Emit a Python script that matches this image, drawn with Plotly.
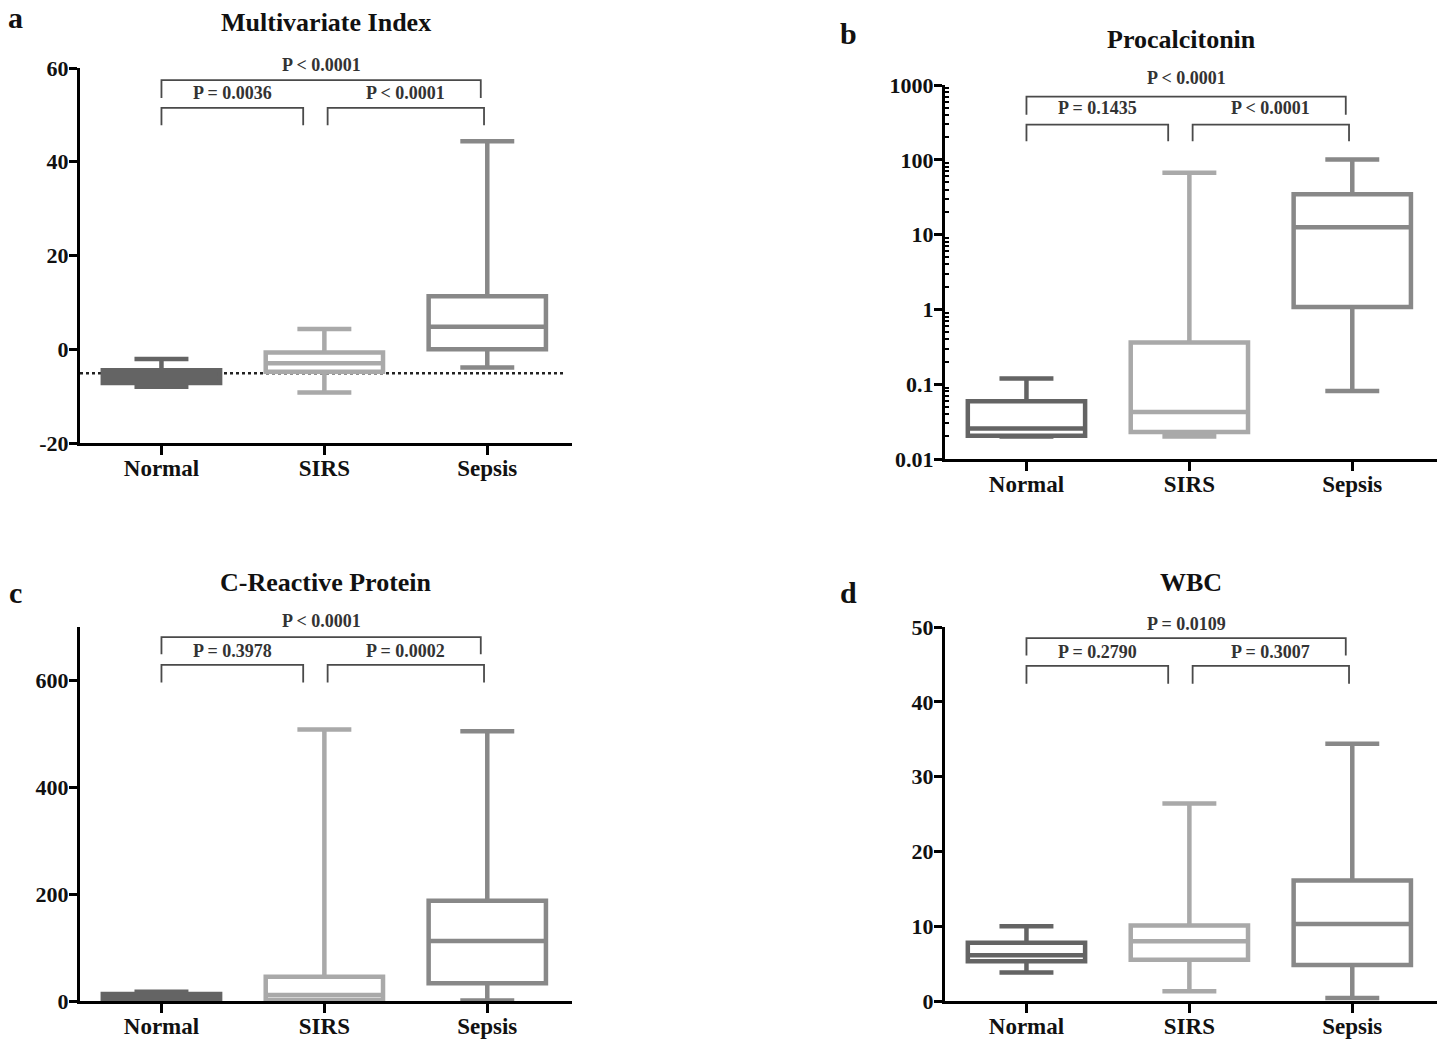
import math
import plotly.graph_objects as go

# ---------------- data ----------------
groups = ["Normal", "SIRS", "Sepsis"]
colors = ["#646464", "#a9a9a9", "#888888"]

# Multivariate Index
mi_min = [-8.0, -9.2, -3.9]
mi_q1 = [-7.2, -4.8, 0.0]
mi_med = [-6.0, -3.0, 4.8]
mi_q3 = [-4.5, -0.7, 11.3]
mi_max = [-2.1, 4.3, 44.4]
mi_ref = -5.1

# Procalcitonin
pct_min = [0.020, 0.020, 0.081]
pct_q1 = [0.0205, 0.023, 1.08]
pct_med = [0.0255, 0.0425, 12.5]
pct_q3 = [0.059, 0.36, 34.6]
pct_max = [0.119, 67.0, 101.0]

# C-Reactive Protein
crp_min = [0.5, 0.5, 1.0]
crp_q1 = [2.0, 2.0, 33.0]
crp_med = [6.0, 11.0, 112.5]
crp_q3 = [13.0, 45.6, 187.5]
crp_max = [17.5, 508.0, 505.0]

# WBC
wbc_min = [3.8, 1.3, 0.4]
wbc_q1 = [5.3, 5.5, 4.8]
wbc_med = [6.1, 8.0, 10.3]
wbc_q3 = [7.8, 10.1, 16.1]
wbc_max = [10.0, 26.4, 34.4]

# p-value labels: [Normal-SIRS, SIRS-Sepsis, Normal-Sepsis]
mi_p = ["P = 0.0036", "P < 0.0001", "P < 0.0001"]
pct_p = ["P = 0.1435", "P < 0.0001", "P < 0.0001"]
crp_p = ["P = 0.3978", "P = 0.0002", "P < 0.0001"]
wbc_p = ["P = 0.2790", "P = 0.3007", "P = 0.0109"]

# bracket heights: [lower bar, lower leg end, upper bar, upper leg end, lower text, upper text]
mi_br = [51.5, 47.8, 57.4, 53.6, 54.7, 60.7]
pct_br = [295, 177, 700, 400, 490, 1250]
crp_br = [629, 596, 681, 649, 656, 711]
wbc_br = [44.8, 42.4, 48.5, 46.2, 46.7, 50.4]

titles = ["Multivariate Index", "Procalcitonin", "C-Reactive Protein", "WBC"]
letters = ["a", "b", "c", "d"]

# ---------------- layout geometry ----------------
W, H = 1447, 1040
FONT = "Liberation Serif"

def px_x(a, b):
    return [a / W, b / W]

def px_y(top, bottom):
    return [1 - bottom / H, 1 - top / H]

panels = [
    dict(stats=(mi_min, mi_q1, mi_med, mi_q3, mi_max), p=mi_p, br=mi_br,
         xd=px_x(80, 572), yd=px_y(68, 443), log=False, yr=[-20, 60],
         tv=[-20, 0, 20, 40, 60], tt=["-20", "0", "20", "40", "60"],
         title_xy=(326, 22), letter_xy=(15, 17)),
    dict(stats=(pct_min, pct_q1, pct_med, pct_q3, pct_max), p=pct_p, br=pct_br,
         xd=px_x(945, 1437), yd=px_y(85, 459), log=True, yr=[-2, 3],
         tv=[0.01, 0.1, 1, 10, 100, 1000], tt=["0.01", "0.1", "1", "10", "100", "1000"],
         title_xy=(1181, 40), letter_xy=(848, 33)),
    dict(stats=(crp_min, crp_q1, crp_med, crp_q3, crp_max), p=crp_p, br=crp_br,
         xd=px_x(80, 572), yd=px_y(627, 1001), log=False, yr=[0, 700],
         tv=[0, 200, 400, 600], tt=["0", "200", "400", "600"],
         title_xy=(326, 582), letter_xy=(15, 592)),
    dict(stats=(wbc_min, wbc_q1, wbc_med, wbc_q3, wbc_max), p=wbc_p, br=wbc_br,
         xd=px_x(945, 1437), yd=px_y(627, 1001), log=False, yr=[0, 50],
         tv=[0, 10, 20, 30, 40, 50], tt=["0", "10", "20", "30", "40", "50"],
         title_xy=(1191, 582), letter_xy=(848, 592)),
]

fig = go.Figure()
annotations = []
shapes = []
layout = {}

for k, pn in enumerate(panels):
    n = "" if k == 0 else str(k + 1)
    xa, ya = "x" + n, "y" + n
    mn, q1, md, q3, mx = pn["stats"]
    for i, g in enumerate(groups):
        fill = colors[i] if (k == 0 and i == 0) else "white"
        fig.add_trace(go.Box(
            x=[i], q1=[q1[i]], median=[md[i]], q3=[q3[i]],
            lowerfence=[mn[i]], upperfence=[mx[i]],
            width=0.72, whiskerwidth=0.46, boxpoints=False,
            line=dict(color=colors[i], width=4.5), fillcolor=fill,
            name=g, showlegend=False, xaxis=xa, yaxis=ya, hoverinfo="skip"))
    # brackets
    b = pn["br"]
    brk = [(0.0, 0.87, b[0], b[1]), (1.02, 1.98, b[0], b[1]), (0.0, 1.96, b[2], b[3])]
    for (x0, x1, ybar, yleg) in brk:
        fig.add_trace(go.Scatter(
            x=[x0, x0, x1, x1], y=[yleg, ybar, ybar, yleg], mode="lines",
            line=dict(color="#4a4a4a", width=1.8), showlegend=False, cliponaxis=False,
            xaxis=xa, yaxis=ya, hoverinfo="skip"))
    txt_x = [(0.0 + 0.87) / 2, (1.02 + 1.98) / 2, (0.0 + 1.96) / 2]
    txt_y = [b[4], b[4], b[5]]
    r0, r1 = pn["yr"]
    for j in range(3):
        v = math.log10(txt_y[j]) if pn["log"] else txt_y[j]
        annotations.append(dict(
            x=txt_x[j], y=(v - r0) / (r1 - r0), xref=xa, yref=ya + " domain",
            text=pn["p"][j], showarrow=False, xanchor="center", yanchor="middle",
            font=dict(family=FONT, size=18, color="#333333", weight="bold")))
    # axes
    axis_x = dict(domain=pn["xd"], range=[-0.5, 2.52], tickvals=[0, 1, 2], ticktext=groups,
                  showline=True, linewidth=3, linecolor="black", ticks="outside",
                  ticklen=9, tickwidth=3, tickcolor="black", showgrid=False, zeroline=False,
                  tickfont=dict(family=FONT, size=23, color="#111111", weight="bold"),
                  ticklabelstandoff=-7,
                  anchor=ya, fixedrange=True, automargin=False)
    axis_y = dict(domain=pn["yd"], range=pn["yr"], tickvals=pn["tv"], ticktext=pn["tt"],
                  showline=True, linewidth=3, linecolor="black", ticks="outside",
                  ticklen=8, tickwidth=3, tickcolor="black", showgrid=False, zeroline=False,
                  tickfont=dict(family=FONT, size=22, color="#111111", weight="bold"),
                  ticklabelstandoff=-4,
                  anchor=xa, fixedrange=True, automargin=False)
    if pn["log"]:
        axis_y["type"] = "log"
        minor_vals = [m * 10 ** e for e in range(-2, 3) for m in range(2, 10)]
        axis_y["minor"] = dict(tickvals=minor_vals, ticks="inside", ticklen=4,
                               tickwidth=2, tickcolor="black", showgrid=False)
    layout["xaxis" + n] = axis_x
    layout["yaxis" + n] = axis_y
    # title & letter
    tx, ty = pn["title_xy"]
    annotations.append(dict(x=tx / W, y=1 - ty / H, xref="paper", yref="paper",
                            text=titles[k], showarrow=False, xanchor="center", yanchor="middle",
                            font=dict(family=FONT, size=26, color="#111111", weight="bold")))
    lx, ly = pn["letter_xy"]
    annotations.append(dict(x=lx / W, y=1 - ly / H, xref="paper", yref="paper",
                            text=letters[k], showarrow=False, xanchor="center", yanchor="middle",
                            font=dict(family=FONT, size=30, color="#111111", weight="bold")))

# reference dotted line on panel a
shapes.append(dict(type="line", xref="x", yref="y", x0=-0.5, x1=2.47, y0=mi_ref, y1=mi_ref,
                   line=dict(color="#222222", width=2.5, dash="dot"), layer="below"))

fig.update_layout(width=W, height=H, margin=dict(l=0, r=0, t=0, b=0, autoexpand=False),
                  autosize=False, paper_bgcolor="white", plot_bgcolor="white",
                  annotations=annotations, shapes=shapes, **layout)
fig.write_html("out.html", config={"displayModeBar": False},
               post_script="document.body.style.margin='0';")
